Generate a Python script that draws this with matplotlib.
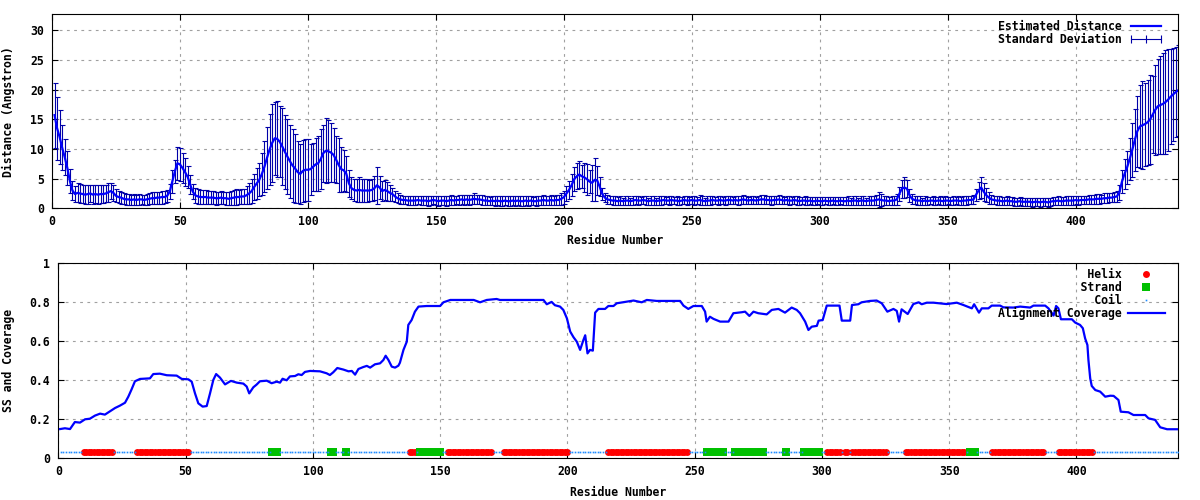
"""Distance / SS / alignment coverage plot (gnuplot look) -> out.png"""

import matplotlib

matplotlib.use("Agg")
import matplotlib.pyplot as plt
import matplotlib.ticker as mticker
import numpy as np
from matplotlib.lines import Line2D

# --- data ------------------------------------------------------------------
# estimated distance per residue (1..440), Angstrom
DIST = [
    15.7, 13.5, 12.0, 10.2, 8.6, 6.8, 4.6, 3.0, 2.4, 2.6, 2.5, 2.4, 2.3, 2.4, 2.5, 2.3, 2.4, 2.3, 2.4, 2.4,
    2.5, 2.7, 2.9, 2.6, 2.1, 1.9, 1.8, 1.6, 1.5, 1.5, 1.4, 1.5, 1.4, 1.5, 1.5, 1.4, 1.5, 1.6, 1.7, 1.7,
    1.8, 1.8, 1.9, 1.9, 2.1, 2.8, 4.5, 6.2, 7.6, 7.4, 6.8, 6.1, 5.3, 4.0, 2.8, 2.2, 2.0, 1.9, 1.9, 1.9,
    1.8, 1.8, 1.8, 1.7, 1.7, 1.8, 1.7, 1.7, 1.6, 1.7, 1.8, 1.9, 1.9, 2.0, 2.0, 2.2, 2.5, 2.9, 3.6, 4.2,
    4.8, 5.8, 7.0, 8.5, 9.9, 11.0, 11.8, 11.7, 11.2, 10.4, 9.5, 8.7, 7.9, 7.2, 6.7, 6.1, 5.8, 6.3, 6.5, 6.5,
    6.6, 7.0, 7.4, 7.6, 8.3, 9.3, 9.7, 9.6, 9.4, 9.0, 8.2, 7.3, 6.6, 6.4, 5.8, 4.2, 3.4, 3.1, 3.0, 3.1,
    3.0, 3.0, 3.0, 3.0, 3.1, 3.4, 3.9, 3.5, 2.9, 3.1, 2.9, 2.6, 2.4, 2.0, 1.7, 1.5, 1.4, 1.4, 1.3, 1.3,
    1.3, 1.3, 1.4, 1.3, 1.3, 1.3, 1.2, 1.3, 1.4, 1.3, 1.2, 1.3, 1.3, 1.2, 1.3, 1.4, 1.3, 1.4, 1.4, 1.5,
    1.4, 1.5, 1.4, 1.5, 1.6, 1.5, 1.5, 1.4, 1.3, 1.3, 1.2, 1.3, 1.2, 1.3, 1.2, 1.2, 1.3, 1.2, 1.2, 1.3,
    1.2, 1.3, 1.2, 1.2, 1.3, 1.2, 1.3, 1.2, 1.2, 1.3, 1.3, 1.4, 1.3, 1.3, 1.4, 1.3, 1.4, 1.4, 1.6, 1.9,
    2.5, 3.1, 3.9, 4.9, 5.4, 5.7, 5.4, 5.2, 4.9, 4.5, 4.3, 4.8, 4.7, 3.6, 2.4, 1.8, 1.5, 1.4, 1.3, 1.3,
    1.2, 1.3, 1.2, 1.3, 1.3, 1.2, 1.3, 1.4, 1.3, 1.3, 1.4, 1.3, 1.2, 1.3, 1.3, 1.2, 1.3, 1.3, 1.4, 1.3,
    1.3, 1.4, 1.3, 1.3, 1.2, 1.3, 1.4, 1.3, 1.3, 1.4, 1.3, 1.3, 1.4, 1.3, 1.2, 1.3, 1.3, 1.4, 1.3, 1.3,
    1.4, 1.3, 1.3, 1.4, 1.4, 1.3, 1.4, 1.3, 1.4, 1.5, 1.4, 1.3, 1.4, 1.4, 1.3, 1.4, 1.5, 1.5, 1.4, 1.4,
    1.3, 1.4, 1.4, 1.5, 1.4, 1.3, 1.4, 1.3, 1.3, 1.4, 1.3, 1.2, 1.3, 1.3, 1.2, 1.3, 1.2, 1.2, 1.3, 1.2,
    1.2, 1.3, 1.2, 1.2, 1.3, 1.2, 1.2, 1.3, 1.2, 1.2, 1.3, 1.2, 1.3, 1.3, 1.2, 1.3, 1.3, 1.2, 1.3, 1.3,
    1.3, 1.4, 1.5, 1.4, 1.3, 1.3, 1.2, 1.3, 1.3, 1.5, 2.4, 3.3, 3.5, 3.3, 2.2, 1.6, 1.4, 1.3, 1.3, 1.2,
    1.3, 1.2, 1.3, 1.3, 1.2, 1.3, 1.3, 1.2, 1.3, 1.3, 1.2, 1.3, 1.3, 1.3, 1.2, 1.3, 1.3, 1.4, 1.4, 1.5,
    2.3, 3.0, 3.5, 2.8, 2.2, 1.8, 1.5, 1.4, 1.3, 1.3, 1.2, 1.2, 1.3, 1.2, 1.2, 1.1, 1.1, 1.2, 1.1, 1.1,
    1.1, 1.1, 1.0, 1.1, 1.1, 1.0, 1.1, 1.1, 1.0, 1.1, 1.2, 1.2, 1.3, 1.2, 1.2, 1.3, 1.3, 1.3, 1.3, 1.4,
    1.3, 1.4, 1.4, 1.4, 1.5, 1.5, 1.5, 1.6, 1.6, 1.6, 1.7, 1.7, 1.8, 1.8, 1.9, 2.0, 2.7, 4.5, 5.8, 6.9,
    8.3, 9.8, 11.5, 13.0, 13.8, 14.0, 14.2, 14.5, 15.0, 15.8, 16.6, 17.2, 17.4, 17.6, 17.9, 18.3, 18.8, 19.2, 19.6, 19.9,
]

# standard deviation per residue
STD = [
    5.5, 5.3, 4.6, 3.8, 3.0, 2.8, 2.1, 1.6, 1.4, 1.6, 1.6, 1.5, 1.6, 1.6, 1.5, 1.6, 1.5, 1.6, 1.5, 1.5,
    1.5, 1.6, 1.4, 1.3, 1.1, 1.0, 1.0, 0.9, 0.9, 0.9, 0.9, 0.9, 0.9, 0.9, 0.8, 0.9, 0.9, 0.9, 1.0, 1.0,
    1.0, 1.0, 1.1, 1.0, 1.0, 1.3, 2.0, 2.0, 2.8, 2.8, 2.6, 2.3, 1.9, 1.6, 1.3, 1.3, 1.3, 1.2, 1.2, 1.2,
    1.1, 1.1, 1.1, 1.1, 1.0, 1.1, 1.0, 1.1, 1.1, 1.2, 1.3, 1.3, 1.2, 1.2, 1.3, 1.5, 1.7, 2.0, 2.2, 2.6,
    2.8, 3.5, 4.3, 5.2, 6.0, 6.5, 6.2, 6.4, 6.0, 6.5, 6.2, 6.3, 6.2, 6.1, 5.8, 5.2, 5.0, 5.2, 5.2, 5.2,
    4.3, 4.0, 4.4, 4.6, 5.0, 4.8, 5.5, 5.2, 4.9, 4.5, 4.0, 4.6, 3.8, 3.4, 3.0, 2.3, 1.8, 1.9, 2.0, 2.1,
    1.9, 2.0, 1.9, 1.8, 1.9, 2.0, 3.1, 2.0, 1.7, 1.7, 1.6, 1.3, 1.1, 0.9, 0.8, 0.7, 0.7, 0.7, 0.7, 0.7,
    0.7, 0.8, 0.7, 0.8, 0.8, 0.7, 0.8, 0.8, 0.7, 0.8, 0.8, 0.7, 0.8, 0.8, 0.7, 0.8, 0.8, 0.7, 0.8, 0.8,
    0.8, 0.8, 0.8, 0.8, 0.9, 0.8, 0.8, 0.8, 0.8, 0.8, 0.7, 0.8, 0.8, 0.7, 0.8, 0.8, 0.7, 0.8, 0.8, 0.7,
    0.8, 0.7, 0.8, 0.8, 0.7, 0.8, 0.8, 0.7, 0.8, 0.8, 0.7, 0.8, 0.8, 0.7, 0.8, 0.8, 0.8, 0.9, 1.0, 1.1,
    1.3, 1.5, 1.8, 2.0, 2.2, 2.3, 1.9, 2.4, 2.6, 2.0, 3.0, 3.6, 2.5, 1.6, 1.0, 0.8, 0.8, 0.7, 0.7, 0.7,
    0.7, 0.7, 0.6, 0.7, 0.7, 0.6, 0.7, 0.7, 0.7, 0.6, 0.7, 0.7, 0.6, 0.7, 0.7, 0.6, 0.7, 0.7, 0.7, 0.6,
    0.7, 0.7, 0.6, 0.7, 0.7, 0.6, 0.7, 0.7, 0.6, 0.7, 0.7, 0.6, 0.8, 0.7, 0.6, 0.7, 0.7, 0.7, 0.6, 0.7,
    0.7, 0.6, 0.7, 0.7, 0.7, 0.6, 0.7, 0.7, 0.7, 0.7, 0.7, 0.6, 0.7, 0.7, 0.6, 0.7, 0.8, 0.7, 0.7, 0.7,
    0.7, 0.6, 0.7, 0.7, 0.7, 0.6, 0.7, 0.7, 0.6, 0.7, 0.7, 0.7, 0.6, 0.7, 0.7, 0.6, 0.7, 0.7, 0.6, 0.7,
    0.7, 0.6, 0.7, 0.7, 0.6, 0.7, 0.7, 0.6, 0.7, 0.7, 0.7, 0.6, 0.7, 0.7, 0.6, 0.7, 0.7, 0.6, 0.7, 0.7,
    0.7, 0.8, 1.3, 1.0, 0.8, 0.7, 0.7, 0.7, 0.7, 0.9, 1.2, 1.5, 1.7, 1.4, 1.1, 0.8, 0.7, 0.7, 0.7, 0.6,
    0.7, 0.7, 0.6, 0.7, 0.7, 0.6, 0.7, 0.7, 0.7, 0.6, 0.7, 0.7, 0.6, 0.7, 0.7, 0.7, 0.7, 0.7, 0.7, 0.8,
    1.0, 1.5, 1.8, 1.5, 1.2, 1.0, 0.8, 0.7, 0.7, 0.7, 0.7, 0.7, 0.7, 0.7, 0.7, 0.7, 0.7, 0.7, 0.7, 0.7,
    0.7, 0.7, 0.7, 0.7, 0.7, 0.7, 0.7, 0.7, 0.7, 0.7, 0.7, 0.7, 0.7, 0.7, 0.7, 0.7, 0.7, 0.7, 0.7, 0.7,
    0.7, 0.7, 0.7, 0.7, 0.7, 0.7, 0.7, 0.8, 0.8, 0.7, 0.8, 0.8, 0.8, 0.8, 0.8, 0.9, 1.3, 2.0, 2.5, 2.8,
    3.6, 4.5, 5.2, 6.0, 7.0, 7.4, 7.0, 7.2, 7.5, 6.5, 7.6, 8.0, 8.2, 8.5, 8.8, 8.6, 8.0, 7.8, 7.6, 7.7,
]

# secondary structure segments (first, last residue)
HELIX = [(10, 21), (31, 51), (138, 140), (153, 170), (175, 200), (216, 247),
         (302, 307), (309, 310), (312, 325), (333, 356), (367, 387), (393, 406)]
STRAND = [(84, 86), (107, 108), (113, 113), (142, 150), (255, 261), (266, 277),
          (286, 286), (293, 299), (358, 360)]
N_RES = 440
SS_LEVEL = 0.03

# alignment coverage
COV_RES = [
    0.7, 2.6, 4.6, 6.5, 8.5, 10.5, 12.4, 14.4, 16.4, 18.3, 20.3, 22.3, 24.2, 26.2, 27.5, 28.8,
    30.1, 32.1, 36.0, 37.3, 39.9, 42.6, 46.5, 48.5, 51.1, 52.4, 53.7, 55.0, 56.7, 58.3, 59.6,
    60.9, 62.0, 63.5, 65.5, 67.8, 70.1, 72.7, 74.0, 75.0, 76.6, 77.9, 79.2, 81.9, 83.8, 85.8,
    87.1, 88.1, 89.7, 91.0, 93.0, 94.3, 95.6, 96.9, 98.9, 102.8, 105.4, 106.7, 108.0, 109.6,
    112.0, 114.0, 115.3, 116.6, 117.9, 119.8, 121.2, 122.5, 124.4, 126.4, 127.7, 128.6, 129.7,
    131.0, 132.3, 133.6, 134.2, 135.6, 136.9, 137.5, 138.8, 140.1, 141.5, 144.7, 150.0, 151.3,
    154.0, 163.2, 165.7, 168.3, 172.2, 173.5, 190.6, 191.9, 193.8, 195.1, 197.1, 198.4, 199.8,
    201.1, 202.4, 203.7, 205.0, 206.3, 207.0, 207.9, 208.9, 210.0, 210.9, 212.2, 214.8, 216.1,
    218.1, 219.4, 223.3, 226.0, 229.2, 231.2, 235.1, 244.3, 245.6, 247.5, 249.5, 252.8, 254.1,
    254.7, 256.0, 257.4, 260.0, 263.3, 265.2, 268.5, 269.8, 271.5, 273.1, 275.0, 278.3, 280.3,
    282.9, 285.5, 288.1, 290.1, 291.4, 293.4, 294.7, 296.0, 298.0, 298.7, 300.3, 301.9, 306.9,
    307.8, 311.1, 311.8, 314.3, 315.6, 318.9, 321.5, 323.5, 325.7, 328.1, 329.4, 330.3, 331.3,
    333.7, 335.9, 338.0, 339.2, 341.2, 343.8, 349.0, 353.0, 355.6, 358.9, 359.8, 361.7, 362.8,
    365.4, 366.7, 370.0, 371.3, 375.2, 377.9, 381.8, 383.1, 387.7, 389.0, 391.0, 392.0, 392.9,
    393.9, 398.2, 399.5, 401.4, 402.5, 403.4, 404.3, 404.7, 405.4, 406.0, 407.4, 409.3, 411.3,
    413.3, 414.6, 416.5, 417.4, 420.4, 422.4, 427.0, 428.3, 430.9, 432.9, 435.6, 440.0,
]
COV_VAL = [
    0.150, 0.154, 0.150, 0.186, 0.183, 0.200, 0.203, 0.219, 0.229, 0.224, 0.241, 0.258, 0.270, 0.285, 0.316, 0.354,
    0.395, 0.407, 0.410, 0.432, 0.434, 0.426, 0.424, 0.407, 0.405, 0.393, 0.333, 0.282, 0.265, 0.268, 0.333,
    0.402, 0.432, 0.414, 0.379, 0.397, 0.388, 0.383, 0.368, 0.333, 0.364, 0.378, 0.395, 0.398, 0.385, 0.393,
    0.388, 0.408, 0.400, 0.420, 0.422, 0.431, 0.427, 0.443, 0.448, 0.446, 0.436, 0.427, 0.441, 0.463,
    0.455, 0.446, 0.448, 0.429, 0.458, 0.468, 0.474, 0.465, 0.482, 0.487, 0.504, 0.526, 0.504,
    0.470, 0.465, 0.475, 0.490, 0.556, 0.598, 0.684, 0.709, 0.752, 0.778, 0.781, 0.781, 0.800,
    0.812, 0.812, 0.800, 0.812, 0.817, 0.812, 0.812, 0.790, 0.802, 0.785, 0.778, 0.761, 0.718,
    0.650, 0.621, 0.598, 0.556, 0.607, 0.631, 0.538, 0.556, 0.552, 0.747, 0.766, 0.766, 0.781,
    0.781, 0.795, 0.803, 0.809, 0.800, 0.812, 0.807, 0.807, 0.783, 0.766, 0.781, 0.781, 0.752,
    0.701, 0.726, 0.715, 0.701, 0.701, 0.744, 0.749, 0.752, 0.730, 0.752, 0.744, 0.738, 0.761,
    0.766, 0.747, 0.773, 0.761, 0.744, 0.701, 0.658, 0.675, 0.679, 0.706, 0.709, 0.783, 0.783,
    0.706, 0.706, 0.786, 0.790, 0.800, 0.807, 0.809, 0.795, 0.752, 0.766, 0.756, 0.701, 0.764,
    0.740, 0.791, 0.800, 0.790, 0.798, 0.798, 0.791, 0.798, 0.786, 0.769, 0.790, 0.747, 0.769,
    0.769, 0.783, 0.783, 0.774, 0.773, 0.778, 0.773, 0.783, 0.783, 0.769, 0.732, 0.781, 0.769,
    0.713, 0.713, 0.696, 0.684, 0.667, 0.615, 0.581, 0.504, 0.410, 0.371, 0.350, 0.342, 0.316,
    0.321, 0.320, 0.299, 0.239, 0.236, 0.222, 0.222, 0.205, 0.197, 0.159, 0.149, 0.149,
]

X_TICKS = [0, 50, 100, 150, 200, 250, 300, 350, 400]
DIST_TICKS = [0, 5, 10, 15, 20, 25, 30]
COV_TICKS = [0, 0.2, 0.4, 0.6, 0.8, 1]

# --- style -----------------------------------------------------------------
plt.rcParams.update(
    {
        "font.family": ["DejaVu Sans Mono"],
        "font.weight": "bold",
        "font.size": 8.3,
        "axes.labelweight": "bold",
        "axes.linewidth": 0.8,
    }
)
GRID = dict(color="#a0a0a0", linestyle=(0, (2.5, 4)), linewidth=0.8)


def _frame(ax, yticks):
    ax.set_xlim(0, N_RES)
    ax.set_xticks(X_TICKS)
    ax.set_yticks(yticks)
    ax.tick_params(direction="in", length=4, width=0.8, top=True, right=True)
    ax.tick_params(axis="x", pad=5)
    ax.tick_params(axis="y", pad=6)
    ax.grid(True, **GRID)
    ax.set_axisbelow(True)


def painel_distancia(fig):
    ax = fig.add_axes([0.0433, 0.5834, 0.9386, 0.388])
    res = np.arange(1, len(DIST) + 1)
    ax.errorbar(res, DIST, yerr=STD, fmt="none", ecolor="#0000a8",
                elinewidth=0.8, capsize=1.8, capthick=0.8, zorder=2)
    ax.plot(res, DIST, color="#0000ff", linewidth=1.6, zorder=3)
    _frame(ax, DIST_TICKS)
    ax.set_ylim(0, 32.7)
    ax.set_xlabel("Residue Number")
    ax.xaxis.set_label_coords(0.5, -0.13)
    ax.set_ylabel("Distance (Angstron)")
    ax.yaxis.set_label_coords(-0.033, 0.5)

    handles = [
        Line2D([], [], color="#0000ff", linewidth=1.6),
        Line2D([], [], color="#0000a8", linewidth=0.8, marker="|",
               markersize=6, markeredgewidth=0.8),
    ]
    ax.legend(handles, ["Estimated Distance", "Standard Deviation"],
              loc="upper right", bbox_to_anchor=(1 - 13.6 / 1126, 1 - 6 / 194),
              frameon=False, markerfirst=False, numpoints=3, handlelength=3.2,
              handletextpad=0.5, labelspacing=0.0, borderpad=0, borderaxespad=0)


def painel_cobertura(fig):
    ax = fig.add_axes([0.0486, 0.0834, 0.9333, 0.39])
    res = np.arange(1, N_RES + 1)
    kind = np.zeros(N_RES, dtype=int)  # 0 coil, 1 helix, 2 strand
    for a, b in HELIX:
        kind[a - 1:b] = 1
    for a, b in STRAND:
        kind[a - 1:b] = 2
    lvl = np.full(N_RES, SS_LEVEL)

    ax.plot(res[kind == 1], lvl[kind == 1], "o", color="#ff0000",
            markersize=5.0, markeredgewidth=0, zorder=3, label="Helix")
    ax.plot(res[kind == 2], lvl[kind == 2], "s", color="#00c000",
            markersize=5.2, markeredgewidth=0, zorder=3, label="Strand")
    ax.plot(res[kind == 0], lvl[kind == 0], "s", color="#1e8cff",
            markersize=1.2, markeredgewidth=0, zorder=4, label="Coil")
    ax.plot(COV_RES, COV_VAL, color="#0000ff", linewidth=1.6, zorder=5,
            label="Alignment Coverage")

    _frame(ax, COV_TICKS)
    ax.set_ylim(0, 1)
    ax.yaxis.set_major_formatter(mticker.FuncFormatter(lambda v, _: f"{v:g}"))
    ax.set_xlabel("Residue Number")
    ax.xaxis.set_label_coords(0.5, -0.14)
    ax.set_ylabel("SS and Coverage")
    ax.yaxis.set_label_coords(-0.0387, 0.5)

    h, lab = ax.get_legend_handles_labels()
    width = max(len(s) for s in lab)
    ax.legend(h, [s.rjust(width) for s in lab],
              loc="upper right", bbox_to_anchor=(1 - 13.6 / 1120, 1 - 5 / 195),
              frameon=False, markerfirst=False, numpoints=1, handlelength=3.2,
              handletextpad=0.5, labelspacing=0.0, borderpad=0, borderaxespad=0)


if __name__ == "__main__":
    fig = plt.figure(figsize=(12, 5), dpi=100)
    painel_distancia(fig)
    painel_cobertura(fig)
    fig.savefig("out.png", dpi=100)
